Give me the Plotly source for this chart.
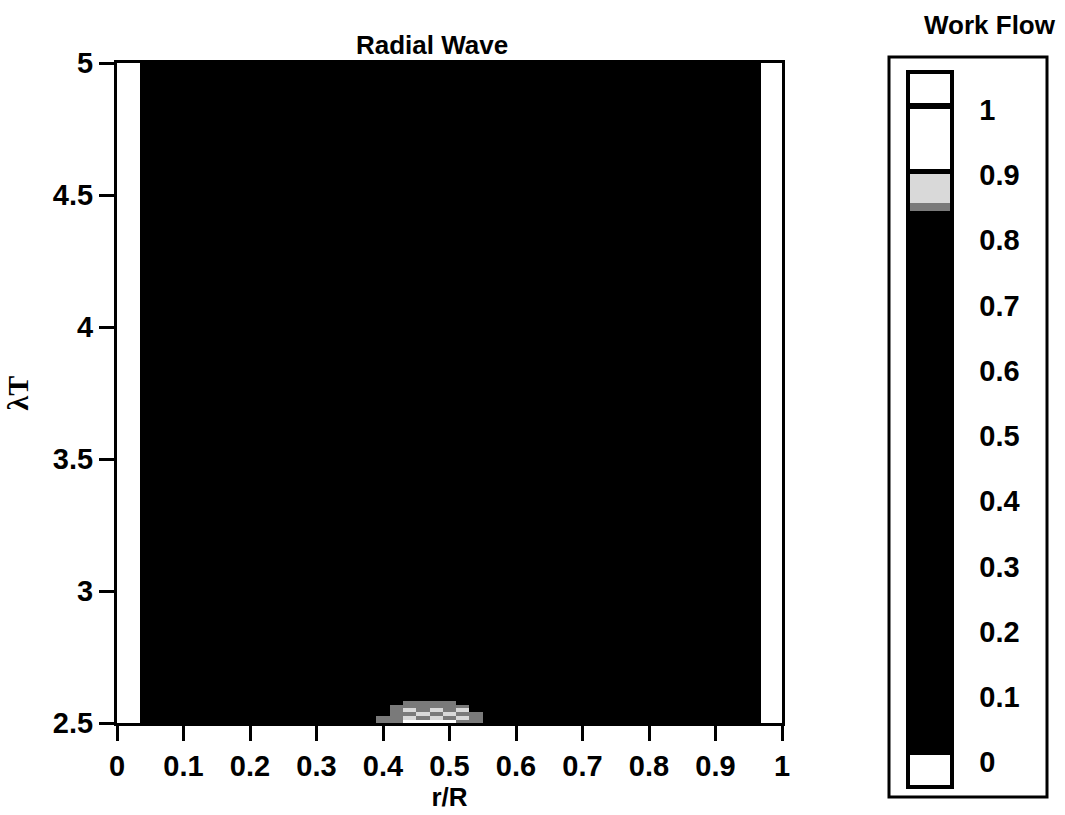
import plotly.graph_objects as go

# ---- data ----
r_edges = [0.0, 0.035, 0.39, 0.41, 0.43, 0.45, 0.47, 0.49, 0.51, 0.53, 0.55, 0.968, 1.0]
lt_edges = [2.5, 2.512, 2.525, 2.54, 2.555, 2.57, 2.585, 5.0]
work_flow = [
    [0.0, 0.5, 0.85, 0.85, 0.95, 0.95, 0.95, 0.95, 0.85, 0.85, 0.5, 0.0],
    [0.0, 0.5, 0.85, 0.85, 0.88, 0.85, 0.88, 0.85, 0.88, 0.85, 0.5, 0.0],
    [0.0, 0.5, 0.5, 0.85, 0.85, 0.88, 0.85, 0.88, 0.85, 0.85, 0.5, 0.0],
    [0.0, 0.5, 0.5, 0.85, 0.88, 0.85, 0.88, 0.85, 0.88, 0.5, 0.5, 0.0],
    [0.0, 0.5, 0.5, 0.85, 0.85, 0.85, 0.85, 0.85, 0.85, 0.5, 0.5, 0.0],
    [0.0, 0.5, 0.5, 0.5, 0.85, 0.85, 0.85, 0.85, 0.5, 0.5, 0.5, 0.0],
    [0.0, 0.5, 0.5, 0.5, 0.5, 0.5, 0.5, 0.5, 0.5, 0.5, 0.5, 0.0],
]
x_ticks = [0, 0.1, 0.2, 0.3, 0.4, 0.5, 0.6, 0.7, 0.8, 0.9, 1]
x_tick_text = ["0", "0.1", "0.2", "0.3", "0.4", "0.5", "0.6", "0.7", "0.8", "0.9", "1"]
y_ticks = [2.5, 3, 3.5, 4, 4.5, 5]
y_tick_text = ["2.5", "3", "3.5", "4", "4.5", "5"]
cb_ticks = [0, 0.1, 0.2, 0.3, 0.4, 0.5, 0.6, 0.7, 0.8, 0.9, 1]
cb_tick_text = ["0", "0.1", "0.2", "0.3", "0.4", "0.5", "0.6", "0.7", "0.8", "0.9", "1"]

# colour bands (value boundaries) of the discrete legend
cmin, cmax = -0.038, 1.058
bands = [
    (-0.038, 0.011, "#ffffff"),
    (0.011, 0.845, "#000000"),
    (0.845, 0.857, "#7a7a7a"),
    (0.857, 0.902, "#d9d9d9"),
    (0.902, 0.910, "#000000"),
    (0.910, 1.002, "#ffffff"),
    (1.002, 1.010, "#000000"),
    (1.010, 1.058, "#ffffff"),
]
colorscale = []
for lo, hi, c in bands:
    colorscale.append([(lo - cmin) / (cmax - cmin), c])
    colorscale.append([(hi - cmin) / (cmax - cmin), c])
colorscale[0][0] = 0.0
colorscale[-1][0] = 1.0

FONT = dict(family="Liberation Sans, Arial, sans-serif", size=29, color="black", weight="bold")
TFONT = dict(family="Liberation Sans, Arial, sans-serif", size=26, color="black", weight="bold")

# layout geometry (pixels)
L, R, T, B = 117, 1065 - 782, 63, 815 - 723
PW, PH = 1065 - L - R, 815 - T - B


def px_x(px):
    return (px - L) / PW


def px_y(py):
    return (815 - B - py) / PH


fig = go.Figure()
fig.add_trace(go.Heatmap(
    x=r_edges, y=lt_edges, z=work_flow,
    zmin=cmin, zmax=cmax, colorscale=colorscale, zsmooth=False,
    colorbar=dict(
        x=px_x(908), xanchor="left", xpad=0,
        y=px_y((72 + 787) / 2), yanchor="middle", ypad=0,
        lenmode="pixels", len=787 - 72,
        thicknessmode="pixels", thickness=44,
        outlinewidth=4, outlinecolor="black",
        tickvals=cb_ticks, ticktext=cb_tick_text,
        ticks="outside", ticklen=20, tickcolor="rgba(0,0,0,0)",
        tickfont=FONT,
    ),
))

fig.update_layout(
    width=1065, height=815,
    margin=dict(l=L, r=R, t=T, b=B),
    paper_bgcolor="white", plot_bgcolor="white",
    title=dict(text="Radial Wave", x=px_x(432), xref="paper", xanchor="center",
               y=1 - 45 / 815, yref="container", yanchor="middle", font=TFONT),
    xaxis=dict(range=[0, 1], tickvals=x_ticks, ticktext=x_tick_text,
               showline=True, linewidth=3, linecolor="black", mirror=True,
               ticks="outside", ticklen=15, tickwidth=3, tickcolor="black",
               showgrid=False, zeroline=False, tickfont=FONT,
               title=dict(text="r/R", standoff=4, font=TFONT)),
    yaxis=dict(range=[2.5, 5], tickvals=y_ticks, ticktext=y_tick_text,
               showline=True, linewidth=3, linecolor="black", mirror=True,
               ticks="outside", ticklen=15, tickwidth=3, tickcolor="black",
               showgrid=False, zeroline=False, tickfont=FONT,
               title=dict(text="λT", standoff=16,
                          font=dict(family="Liberation Serif, Times New Roman, serif", size=30, color="black", weight="bold"))),
    shapes=[dict(type="rect", xref="paper", yref="paper",
                 x0=px_x(889), x1=px_x(1047), y0=px_y(797), y1=px_y(57),
                 line=dict(color="black", width=3), fillcolor="rgba(0,0,0,0)", layer="below")],
    annotations=[dict(text="Work Flow", xref="paper", yref="paper",
                      x=px_x(990), y=px_y(25), xanchor="center", yanchor="middle",
                      showarrow=False, font=TFONT)],
)

fig.write_html("out.html")
